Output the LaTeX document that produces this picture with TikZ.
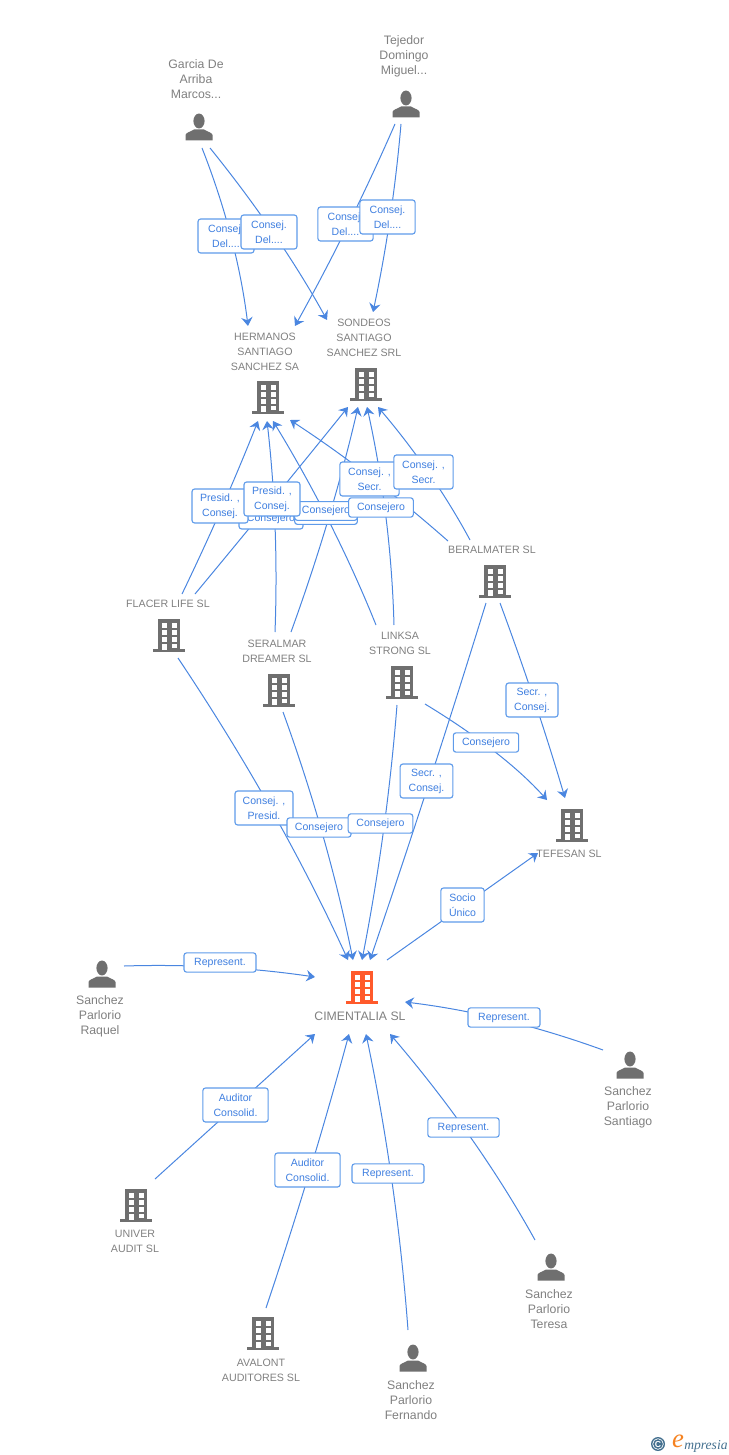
\documentclass[tikz,border=0pt]{standalone}
\usepackage{fontspec}
\setmainfont{Liberation Sans}
\newfontfamily\logofont{Liberation Serif}
\usetikzlibrary{arrows.meta,calc}
\definecolor{edgeblue}{HTML}{4A86E0}
\definecolor{labblue}{HTML}{3F7FE0}
\definecolor{boxblue}{HTML}{5F9BEA}
\definecolor{icongray}{HTML}{6F6F6F}
\definecolor{txtgray}{HTML}{808080}
\definecolor{hotorange}{HTML}{FF5A2B}
\definecolor{logoblue}{HTML}{44708F}
\definecolor{logoorange}{HTML}{F58220}
\tikzset{
  edgeline/.style={draw=edgeblue,line width=0.75pt,-{Stealth[length=6.5pt,width=8.5pt,inset=2.2pt]}},
  tag/.style={draw=boxblue,line width=0.85pt,fill=white,rounded corners=2pt,inner sep=0pt,align=center,
     text=labblue,font=\fontsize{7.9}{11.25}\selectfont},
  comptxt/.style={text=txtgray,align=center,inner sep=0pt,font=\fontsize{8}{11.25}\selectfont},
  perstxt/.style={text=txtgray,align=center,inner sep=0pt,font=\fontsize{9.2}{11.25}\selectfont},
  iconbox/.style={inner sep=0pt,minimum width=24pt,minimum height=24pt}
}
% building icon: name, x, y, colour
\newcommand{\bldicon}[4]{%
  \node[iconbox] (#1) at (#2,#3) {};
  \begin{scope}[shift={(#2,#3)}]
    \fill[#4] (-11,-16) rectangle (11,15);
    \fill[#4] (-16,14) rectangle (16,16.5);
    \fill[white] (-7.5,-12) rectangle (-2.5,-7.5);
    \fill[white] (2.5,-12) rectangle (7.5,-7.5);
    \fill[white] (-7.5,-5) rectangle (-2.5,-0.5);
    \fill[white] (2.5,-5) rectangle (7.5,-0.5);
    \fill[white] (-7.5,2) rectangle (-2.5,6.5);
    \fill[white] (2.5,2) rectangle (7.5,6.5);
    \fill[white] (-7.5,8.5) rectangle (-2.5,15);
    \fill[white] (2.5,8.5) rectangle (7.5,13);
  \end{scope}}
% person icon: name, x, y
\newcommand{\persicon}[3]{%
  \node[iconbox] (#1) at (#2,#3) {};
  \begin{scope}[shift={(#2,#3)}]
    \fill[icongray] (0,-6) ellipse [x radius=4.2pt,y radius=5.6pt];
    \fill[icongray] (-13.5,13.5) -- (-13.5,8) .. controls (-13,5.5) and (-9,5) .. (-5,2.5) -- (5,2.5)
       .. controls (9,5) and (13,5.5) .. (13.5,8) -- (13.5,13.5) -- cycle;
  \end{scope}}
% connector: source node, its offset, bend point, target node, its offset
\newcommand{\qconn}[5]{%
  \path[edgeline] ([shift={(#2)}]#1.center)
    .. controls ($([shift={(#2)}]#1.center)!.667!(#3)$) and ($([shift={(#5)}]#4.center)!.667!(#3)$)
    .. ([shift={(#5)}]#4.center);}
\begin{document}
\begin{tikzpicture}[x=0.75pt,y=-0.75pt]
\useasboundingbox (0,0) rectangle (728,1455);
% icons
\persicon{garcia}{199}{127}
\persicon{tejedor}{406}{104}
\persicon{raquel}{102}{974}
\persicon{santiago}{630}{1065}
\persicon{teresa}{551}{1267}
\persicon{fernando}{413}{1358}
\bldicon{hermanos}{268}{397}{icongray}
\bldicon{sondeos}{366}{384}{icongray}
\bldicon{flacer}{169}{635}{icongray}
\bldicon{seralmar}{279}{690}{icongray}
\bldicon{linksa}{402}{682}{icongray}
\bldicon{beralmater}{495}{581}{icongray}
\bldicon{tefesan}{572}{825}{icongray}
\bldicon{cimentalia}{362}{987}{hotorange}
\bldicon{univer}{136}{1205}{icongray}
\bldicon{avalont}{263}{1333}{icongray}
% captions
\node[perstxt] (garciat) at (196,79) {Garcia De\\Arriba\\Marcos...};
\node[perstxt] (tejedort) at (404,56) {Tejedor\\Domingo\\Miguel...};
\node[comptxt] (hermanost) at (265,352) {HERMANOS\\SANTIAGO\\SANCHEZ SA};
\node[comptxt] (sondeost) at (364,338) {SONDEOS\\SANTIAGO\\SANCHEZ SRL};
\node[comptxt] (flacert) at (168,604) {FLACER LIFE SL};
\node[comptxt] (seralmart) at (277,651.5) {SERALMAR\\DREAMER SL};
\node[comptxt] (linksat) at (400,643.5) {LINKSA\\STRONG SL};
\node[comptxt] (beralmatert) at (492,550) {BERALMATER SL};
\node[comptxt] (tefesant) at (569,854) {TEFESAN SL};
\node[perstxt] (cimentaliat) at (360,1016) {CIMENTALIA SL};
\node[perstxt] (raquelt) at (100,1016) {Sanchez\\Parlorio\\Raquel};
\node[perstxt] (santiagot) at (628,1107) {Sanchez\\Parlorio\\Santiago};
\node[perstxt] (teresat) at (549,1309) {Sanchez\\Parlorio\\Teresa};
\node[perstxt] (fernandot) at (411,1400) {Sanchez\\Parlorio\\Fernando};
\node[comptxt] (univert) at (135,1241.5) {UNIVER\\AUDIT  SL};
\node[comptxt] (avalontt) at (261,1370.5) {AVALONT\\AUDITORES SL};
% connectors
\qconn{garcia}{3,21}{237,237}{hermanos}{-20,-71}
\qconn{garcia}{11,21}{279.5,234}{sondeos}{-39,-64}
\qconn{tejedor}{-11,20}{351,225}{hermanos}{27,-71}
\qconn{tejedor}{-5,20}{393,218}{sondeos}{7,-72}
\qconn{flacer}{13,-41}{224,507}{hermanos}{-10,24}
\qconn{flacer}{26,-41}{273,500}{sondeos}{-18,23}
\qconn{seralmar}{-4,-58}{279,526}{hermanos}{-1,24}
\qconn{seralmar}{12,-58}{332,519}{sondeos}{-8,23}
\qconn{linksa}{-26,-57}{335,523}{hermanos}{5,24}
\qconn{linksa}{-8,-57}{391,516}{sondeos}{1,23}
\qconn{beralmater}{-47,-40}{369,471.5}{hermanos}{22,23}
\qconn{beralmater}{-25,-41}{434,473}{sondeos}{12,23}
\qconn{beralmater}{-9,22}{431,781}{cimentalia}{8,-27}
\qconn{beralmater}{5,22}{536,700}{tefesan}{-7,-27}
\qconn{linksa}{23,22}{504,752}{tefesan}{-25,-25}
\qconn{linksa}{-5,23}{387,832}{cimentalia}{0,-27}
\qconn{seralmar}{4,22}{328,836}{cimentalia}{-9,-27}
\qconn{flacer}{9,23}{279,809}{cimentalia}{-14,-27}
\path[edgeline] ([shift={(25,-27)}]cimentalia.center) -- ([shift={(-34,28)}]tefesan.center);
\qconn{raquel}{22,-8}{220,963}{cimentalia}{-47,-10}
\qconn{santiago}{-27,-15}{504,1014}{cimentalia}{43,15}
\path[edgeline] ([shift={(19,-26)}]univer.center) -- ([shift={(-47,47)}]cimentalia.center);
\qconn{avalont}{3,-25}{312,1171}{cimentalia}{-13,47}
\qconn{fernando}{-5,-28}{397,1182}{cimentalia}{4,47}
\qconn{teresa}{-16,-27}{478,1137}{cimentalia}{28,47}
% labels
\node[tag,minimum width=42pt,minimum height=25.5pt] (l1) at (226,236) {Consej.\\Del....};
\node[tag,minimum width=42pt,minimum height=25.5pt] (l2) at (269,232) {Consej.\\Del....};
\node[tag,minimum width=41.5pt,minimum height=25.5pt] (l3) at (345.5,224) {Consej.\\Del....};
\node[tag,minimum width=41.5pt,minimum height=25.5pt] (l4) at (387.5,217) {Consej.\\Del....};
\node[tag,minimum width=48pt,minimum height=15pt] (l5) at (271,519) {Consejero};
\node[tag,minimum width=47pt,minimum height=14pt] (l6) at (326,515) {Consejero};
\node[tag,minimum width=47pt,minimum height=14pt] (l7) at (326,511) {Consejero};
\node[tag,minimum width=42pt,minimum height=25.5pt] (l8) at (220,506) {Presid. ,\\Consej.};
\node[tag,minimum width=42pt,minimum height=25.5pt] (l9) at (272,499) {Presid. ,\\Consej.};
\node[tag,minimum width=48.5pt,minimum height=14.5pt] (l10) at (381,507.5) {Consejero};
\node[tag,minimum width=44.5pt,minimum height=25.5pt] (l11) at (369.5,479) {Consej. ,\\Secr.};
\node[tag,minimum width=44.5pt,minimum height=25.5pt] (l12) at (423.5,472) {Consej. ,\\Secr.};
\node[tag,minimum width=39pt,minimum height=25.5pt] (l13) at (532,700) {Secr. ,\\Consej.};
\node[tag,minimum width=49pt,minimum height=14.5pt] (l14) at (486,742.5) {Consejero};
\node[tag,minimum width=39.5pt,minimum height=25.5pt] (l15) at (426.5,781) {Secr. ,\\Consej.};
\node[tag,minimum width=43.5pt,minimum height=25.5pt] (l16) at (264,808) {Consej. ,\\Presid.};
\node[tag,minimum width=48pt,minimum height=14.5pt] (l17) at (319,827.5) {Consejero};
\node[tag,minimum width=48.5pt,minimum height=14.5pt] (l18) at (380.5,823.5) {Consejero};
\node[tag,minimum width=32.5pt,minimum height=25.5pt] (l19) at (462.5,905) {Socio\\Único};
\node[tag,minimum width=54pt,minimum height=14.5pt] (l20) at (220,962.5) {Represent.};
\node[tag,minimum width=54pt,minimum height=14.5pt] (l21) at (504,1017.5) {Represent.};
\node[tag,minimum width=49pt,minimum height=25.5pt] (l22) at (235.5,1105) {Auditor\\Consolid.};
\node[tag,minimum width=49pt,minimum height=25.5pt] (l23) at (307.5,1170) {Auditor\\Consolid.};
\node[tag,minimum width=54pt,minimum height=14.5pt] (l24) at (388,1173.5) {Represent.};
\node[tag,minimum width=53.5pt,minimum height=14.5pt] (l25) at (463.5,1127.5) {Represent.};
% logo
\node[circle,fill=logoblue,text=white,inner sep=0pt,minimum size=10.5pt,font=\fontsize{6.5}{7}\selectfont\bfseries] (logoc) at (658,1444) {C};
\draw[white,line width=0.5pt] (logoc.center) circle (4pt);
\node[text=logoorange,inner sep=0pt,font=\logofont\itshape\fontsize{20}{20}\selectfont] (logoe) at (678,1441) {e};
\node[text=logoblue,inner sep=0pt,anchor=west,font=\logofont\itshape\fontsize{10.2}{11}\selectfont] (logot) at (684,1446) {mpresia};
\end{tikzpicture}
\end{document}
